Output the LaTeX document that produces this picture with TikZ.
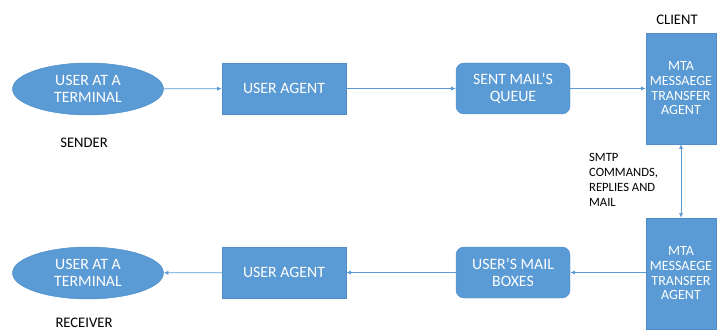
\documentclass[tikz,border=0pt]{standalone}
\usepackage{fontspec}
\setmainfont{Carlito}
\usepackage{tikz}
\usetikzlibrary{arrows.meta,positioning,shapes.geometric}
\definecolor{OfficeBlue}{RGB}{91,155,213}
\definecolor{OfficeEdge}{RGB}{80,140,200}

\begin{document}
\begin{tikzpicture}[every node/.style={font=\fontsize{13.5}{14.5}\selectfont},
    blk/.style={draw=OfficeEdge, fill=OfficeBlue, text=white, align=center, inner sep=1pt},
    user/.style={blk, ellipse, minimum width=4.53cm, minimum height=1.56cm},
    agent/.style={blk, minimum width=3.72cm, minimum height=1.53cm},
    queue/.style={blk, rounded corners=0.24cm, minimum width=3.42cm, minimum height=1.53cm},
    mta/.style={blk, minimum width=2.1cm, minimum height=3.33cm},
    lbl/.style={text=black, font=\fontsize{12.5}{14}\selectfont},
    flow/.style={-{Latex[length=4pt,width=3.5pt]}, draw=OfficeBlue, line width=0.6pt}]
    \clip (0,0) rectangle (21.69,9.87);
    % sender side
    \node[user] (usrtop) at (2.64,7.2) {USER AT A\\TERMINAL};
    \node[agent] (uatop) at (8.52,7.215) {USER AGENT};
    \node[queue] (sentq) at (15.39,7.215) {SENT MAIL'S\\QUEUE};
    \node[mta, font=\fontsize{12}{12.5}\selectfont] (mtaclient) at (20.43,7.215) {MTA\\MESSAEGE\\TRANSFER\\AGENT};
    \node[lbl] (sender) at (2.52,5.6) {SENDER};
    \node[lbl] (client) at (20.31,9.27) {CLIENT};
    % receiver side
    \node[user] (usrbot) at (2.64,1.68) {USER AT A\\TERMINAL};
    \node[agent] (uabot) at (8.52,1.695) {USER AGENT};
    \node[queue] (mbox) at (15.39,1.695) {USER'S MAIL\\BOXES};
    \node[mta, font=\fontsize{12}{12.5}\selectfont] (mtaserver) at (20.43,1.665) {MTA\\MESSAEGE\\TRANSFER\\AGENT};
    \node[lbl] (receiver) at (2.52,0.2) {RECEIVER};
    \node[lbl, anchor=west, align=left, font=\fontsize{10.8}{12.8}\selectfont] (smtp) at (17.55,4.47) {SMTP\\COMMANDS,\\REPLIES AND\\MAIL};
    % connectors
    \draw[flow] (usrtop) -- (uatop);
    \draw[flow] (uatop) -- (sentq);
    \draw[flow] (sentq) -- (mtaclient);
    \draw[flow, {Latex[length=4pt,width=3.5pt]}-{Latex[length=4pt,width=3.5pt]}] (mtaclient) -- (mtaserver);
    \draw[flow] (mtaserver.west |- mbox) -- (mbox);
    \draw[flow] (mbox) -- (uabot);
    \draw[flow] (uabot) -- (usrbot);
\end{tikzpicture}
\end{document}
